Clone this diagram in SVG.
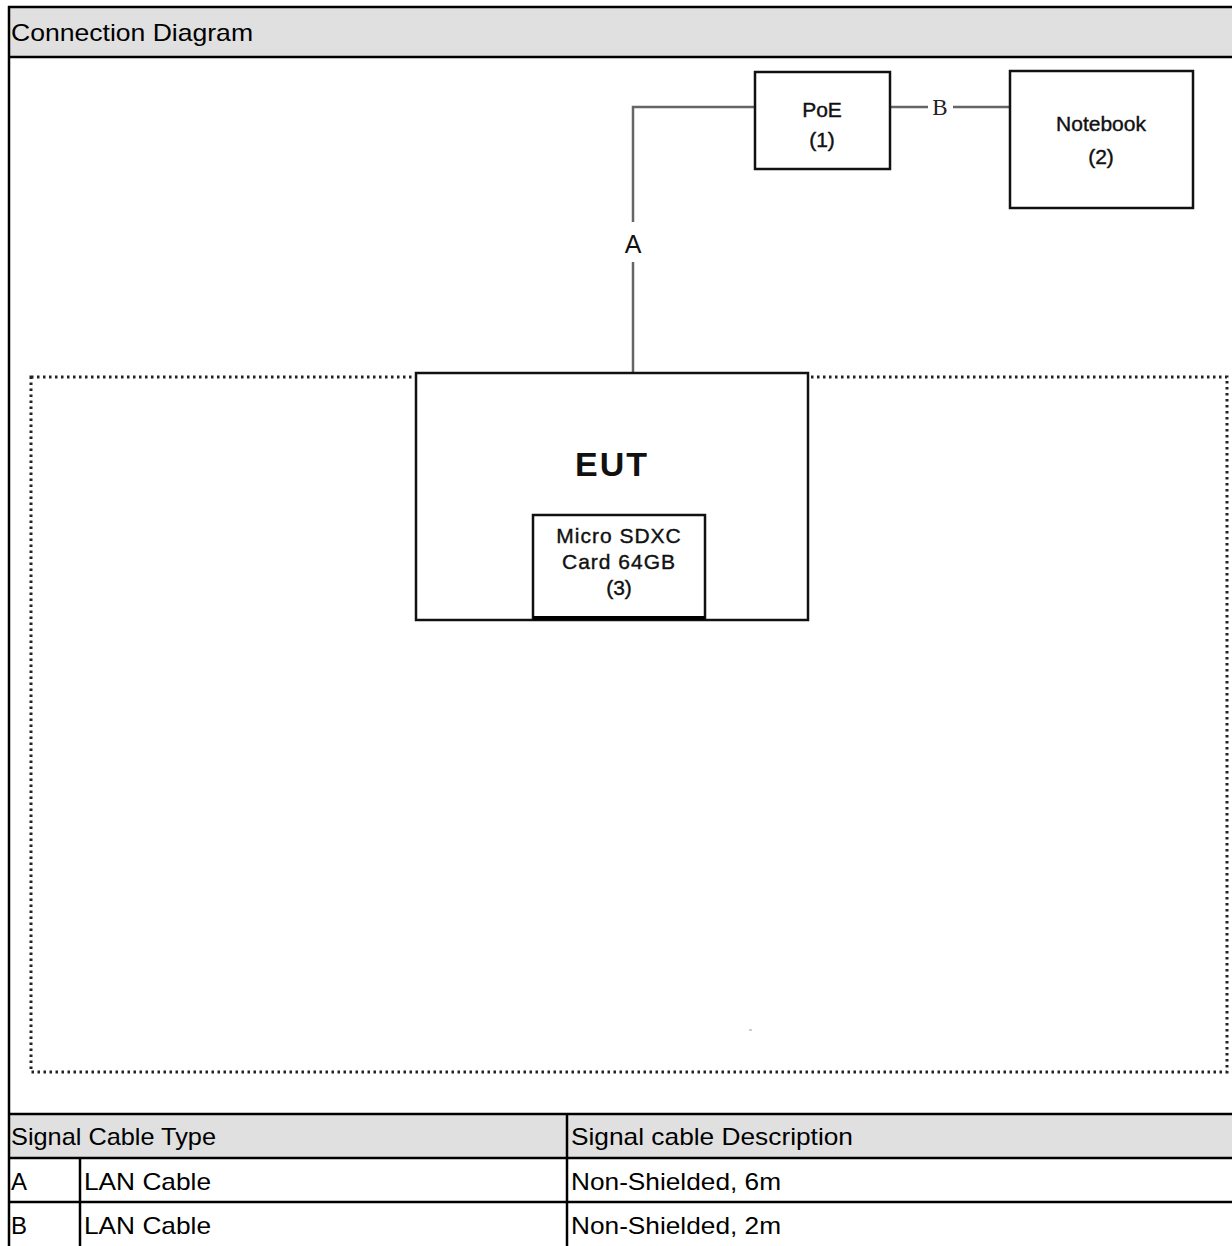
<svg xmlns="http://www.w3.org/2000/svg" width="1232" height="1246" viewBox="0 0 1232 1246">
<style>
.t{font-family:"Liberation Sans",Arial,sans-serif;font-size:24px;fill:#000}
.n{font-family:"Liberation Sans",Arial,sans-serif;font-size:21px;fill:#111;stroke:#111;stroke-width:0.4;text-anchor:middle}
.box{fill:#fff;stroke:#111;stroke-width:2.5}
.wire{fill:none;stroke:#666;stroke-width:2.5}
.rule{stroke:#000;stroke-width:2.5}
</style>
<rect width="1232" height="1246" fill="#fff"/>
<g id="frame">
<rect x="8" y="7" width="1224" height="50" fill="#e0e0e0"/>
<rect x="8" y="1114" width="1224" height="44" fill="#e0e0e0"/>
<line class="rule" x1="8" y1="7" x2="1232" y2="7"/>
<line class="rule" x1="8" y1="57" x2="1232" y2="57"/>
<line class="rule" x1="9" y1="6" x2="9" y2="1246"/>
<line class="rule" x1="8" y1="1114" x2="1232" y2="1114"/>
<line class="rule" x1="8" y1="1158" x2="1232" y2="1158"/>
<line class="rule" x1="8" y1="1202" x2="1232" y2="1202"/>
<line class="rule" x1="80" y1="1158" x2="80" y2="1246"/>
<line class="rule" x1="567" y1="1114" x2="567" y2="1246"/>
<text class="t" x="11" y="41" textLength="242" lengthAdjust="spacingAndGlyphs">Connection Diagram</text>
<text class="t" x="11" y="1145" textLength="205" lengthAdjust="spacingAndGlyphs">Signal Cable Type</text>
<text class="t" x="571" y="1145" textLength="282" lengthAdjust="spacingAndGlyphs">Signal cable Description</text>
<text class="t" x="11" y="1190">A</text>
<text class="t" x="84" y="1190" textLength="127" lengthAdjust="spacingAndGlyphs">LAN Cable</text>
<text class="t" x="571" y="1190" textLength="210" lengthAdjust="spacingAndGlyphs">Non-Shielded, 6m</text>
<text class="t" x="11" y="1234">B</text>
<text class="t" x="84" y="1234" textLength="127" lengthAdjust="spacingAndGlyphs">LAN Cable</text>
<text class="t" x="571" y="1234" textLength="210" lengthAdjust="spacingAndGlyphs">Non-Shielded, 2m</text>
</g>
<g id="enclosure">
<rect x="31" y="377" width="1196" height="695" fill="none" stroke="#222" stroke-width="3" stroke-dasharray="2.5 3.5"/>
<rect x="749" y="1029" width="3" height="2" fill="#ccc"/>
</g>
<g id="connectors">
<polyline class="wire" points="633,373 633,262"/>
<polyline class="wire" points="633,222 633,107 755,107"/>
<text x="633" y="253" font-family="Liberation Sans, Arial, sans-serif" font-size="25" text-anchor="middle" fill="#111">A</text>
<line class="wire" x1="890" y1="107" x2="928" y2="107"/>
<line class="wire" x1="953" y1="107" x2="1010" y2="107"/>
<text x="940" y="115" font-family="Liberation Serif, Times New Roman, serif" font-size="23" text-anchor="middle" fill="#222">B</text>
</g>
<g id="poe">
<rect class="box" x="755" y="72" width="135" height="97"/>
<text class="n" x="822" y="117">PoE</text>
<text class="n" x="822" y="147">(1)</text>
</g>
<g id="notebook">
<rect class="box" x="1010" y="71" width="183" height="137"/>
<text class="n" x="1101" y="131">Notebook</text>
<text class="n" x="1101" y="164">(2)</text>
</g>
<g id="eut">
<rect class="box" x="416" y="373" width="392" height="247"/>
<text x="612" y="476" font-family="Liberation Sans, Arial, sans-serif" font-size="34" font-weight="bold" letter-spacing="2" text-anchor="middle" fill="#111">EUT</text>
</g>
<g id="sdcard">
<rect class="box" x="533" y="515" width="172" height="104"/>
<line x1="533" y1="618" x2="705" y2="618" stroke="#000" stroke-width="4"/>
<text class="n" x="619" y="543" font-size="16" stroke-width="0.2" letter-spacing="1">Micro SDXC</text>
<text class="n" x="619" y="569" font-size="16" stroke-width="0.2" letter-spacing="1">Card 64GB</text>
<text class="n" x="619" y="595" font-size="15" stroke-width="0.2">(3)</text>
</g>
</svg>
